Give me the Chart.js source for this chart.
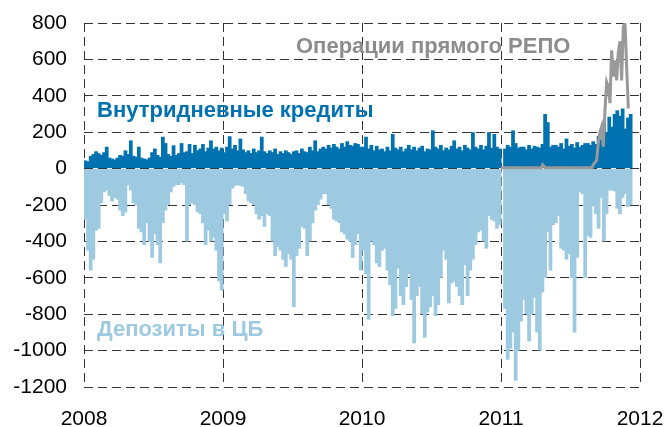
<!DOCTYPE html>
<html>
<head>
<meta charset="utf-8">
<script src="https://cdn.jsdelivr.net/npm/chart.js@4"></script>
<style>
  body { margin: 0; background: #fff; }
</style>
</head>
<body>
<canvas id="myChart" width="665" height="427"></canvas>
<script>
// weekly values, bn rub
const years = [2008, 2009, 2010, 2011]
const weeksPerYear = 52

const credits2008 = [45,40,70,80,95,85,75,90,120,60, 55,50,60,75,70,100,80,155,70,65, 120,60,55,50,60,90,110,75,65,175, 140,80,70,128,75,85,140,90,95,135, 85,130,100,110,135,95,115,155,110,120, 100,115]
const credits2009 = [90,120,178,110,130,100,165,105,90,100, 85,110,90,100,175,95,85,100,90,110, 80,95,85,100,90,80,95,100,85,110, 95,90,120,100,155,95,110,120,110,130, 115,135,120,110,140,120,150,130,125,140, 135,120]
const credits2010 = [120,175,110,130,100,125,105,110,95,120, 100,190,115,105,120,95,110,130,105,120, 100,115,125,95,110,105,210,120,110,130, 100,115,105,125,155,110,120,100,130,115, 105,200,120,110,130,105,125,200,115,190, 120,110]
const credits2011 = [0,110,130,120,210,140,115,120,120,105, 130,110,125,120,115,135,300,255,120,130, 130,120,140,110,165,125,135,115,145,120, 130,140,140,130,150,135,180,160,250,200, 285,230,300,320,290,330,220,280,300]

const deposits2008 = [-280,-450,-560,-500,-340,-330,-190,-130,-120,-150, -180,-160,-170,-230,-260,-240,-90,-120,-190,-200, -330,-350,-420,-300,-400,-490,-360,-420,-520,-300, -230,-200,-130,-100,-90,-90,-80,-90,-400,-200, -190,-200,-240,-250,-300,-420,-340,-400,-380,-450, -620,-670]
const deposits2009 = [-250,-290,-200,-110,-95,-90,-95,-100,-140,-180, -190,-200,-250,-280,-260,-320,-250,-260,-400,-480, -430,-450,-500,-540,-470,-500,-760,-480,-440,-320, -330,-480,-400,-300,-230,-200,-170,-140,-140,-200, -220,-280,-290,-300,-350,-360,-390,-400,-490,-420, -360,-560]
const deposits2010 = [-450,-580,-830,-400,-420,-520,-540,-450,-440,-560, -640,-810,-770,-550,-700,-750,-650,-580,-720,-960, -700,-650,-800,-930,-790,-760,-700,-810,-750,-600, -450,-500,-740,-630,-620,-650,-700,-750,-530,-700, -560,-500,-420,-350,-340,-400,-440,-260,-280,-290, -330,-310]
const deposits2011 = [0,-770,-1050,-990,-900,-1165,-1000,-840,-720,-800, -950,-800,-710,-900,-1000,-680,-600,-350,-560,-310, -300,-260,-440,-450,-500,-470,-600,-900,-490,-130, -140,-600,-370,-380,-205,-250,-330,-160,-400,-250, -120,-120,-125,-220,-250,-160,-140,-210,-200]

const repoDates = [2011.0, 2011.29, 2011.30, 2011.32, 2011.5, 2011.655, 2011.664, 2011.688, 2011.70, 2011.712, 2011.724, 2011.736, 2011.748, 2011.760, 2011.772, 2011.784, 2011.796, 2011.808, 2011.820, 2011.832, 2011.844, 2011.856, 2011.868, 2011.880, 2011.892, 2011.904, 2011.916]
const repoValues = [5, 5, 22, 5, 5, 5, 22, 45, 140, 200, 230, 120, 320, 475, 450, 360, 650, 505, 595, 485, 640, 700, 485, 780, 800, 560, 330]

const yMin = -1200, yMax = 800, yStep = 200
const xMin = 2008, xMax = 2012

const labelCredits = 'Внутридневные кредиты'
const labelDeposits = 'Депозиты в ЦБ'
const labelRepo = 'Операции прямого РЕПО'

function weekly(yearArrays){
   let pts = []
   yearArrays.forEach((arr, k) => {
      arr.forEach((v, i) => {
         pts.push({x: years[k] + (i + 0.5) / weeksPerYear, y: v})
      })
   })
   return pts
}

let creditPts = weekly([credits2008, credits2009, credits2010, credits2011])
let depositPts = weekly([deposits2008, deposits2009, deposits2010, deposits2011])
let repoPts = repoDates.map((d, i) => ({x: d, y: repoValues[i]}))

const fontFamily = '"Liberation Sans", Arial, sans-serif'

// text labels inside the plot
const notes = {
   id: 'notes',
   afterDatasetsDraw(chart){
      const ctx = chart.ctx
      const area = chart.chartArea
      ctx.save()
      ctx.font = 'bold 22px ' + fontFamily
      ctx.textBaseline = 'alphabetic'
      ctx.textAlign = 'left'
      ctx.fillStyle = '#8c8c8c'
      ctx.fillText(labelRepo, 296, 53)
      ctx.fillStyle = '#0072b0'
      ctx.fillText(labelCredits, area.left + 13, 117)
      ctx.fillStyle = '#9ecae1'
      ctx.fillText(labelDeposits, area.left + 13, 336)
      ctx.restore()
   }
}

let ctx = document.getElementById('myChart').getContext('2d')
new Chart(ctx, {
   type: 'bar',
   data: {
      datasets: [
         {
            type: 'line',
            label: labelRepo,
            data: repoPts,
            borderColor: '#999999',
            borderWidth: 3,
            pointRadius: 0,
            tension: 0,
            order: 0
         },
         {
            label: labelCredits,
            data: creditPts,
            backgroundColor: '#0072b0',
            grouped: false,
            barPercentage: 1.4,
            categoryPercentage: 1,
            order: 1
         },
         {
            label: labelDeposits,
            data: depositPts,
            backgroundColor: '#9ecae1',
            grouped: false,
            barPercentage: 1.4,
            categoryPercentage: 1,
            order: 2
         }
      ]
   },
   options: {
      responsive: false,
      animation: false,
      layout: { padding: { top: 23, right: 25, left: 0, bottom: 0 } },
      plugins: {
         legend: { display: false },
         tooltip: { enabled: false }
      },
      scales: {
         x: {
            type: 'linear',
            min: xMin,
            max: xMax,
            offset: false,
            z: 1,
            grid: { offset: false, color: '#333', lineWidth: 1, drawTicks: false },
            border: { display: false, dash: [9, 5] },
            ticks: {
               stepSize: 1,
               padding: 20,
               maxRotation: 0,
               color: '#000',
               font: { family: fontFamily, size: 21 },
               callback: v => String(v)
            },
            afterFit: s => { s.height = 40; s.paddingLeft = 0; s.paddingRight = 0 }
         },
         y: {
            min: yMin,
            max: yMax,
            z: 1,
            grid: { color: '#333', lineWidth: 1, drawTicks: false },
            border: { display: false, dash: [9, 5] },
            ticks: {
               stepSize: yStep,
               padding: 17,
               color: '#000',
               font: { family: fontFamily, size: 21 },
               callback: v => String(v)
            },
            afterFit: s => { s.width = 84; s.paddingTop = 0; s.paddingBottom = 0 }
         }
      }
   },
   plugins: [notes]
})
</script>
</body>
</html>
